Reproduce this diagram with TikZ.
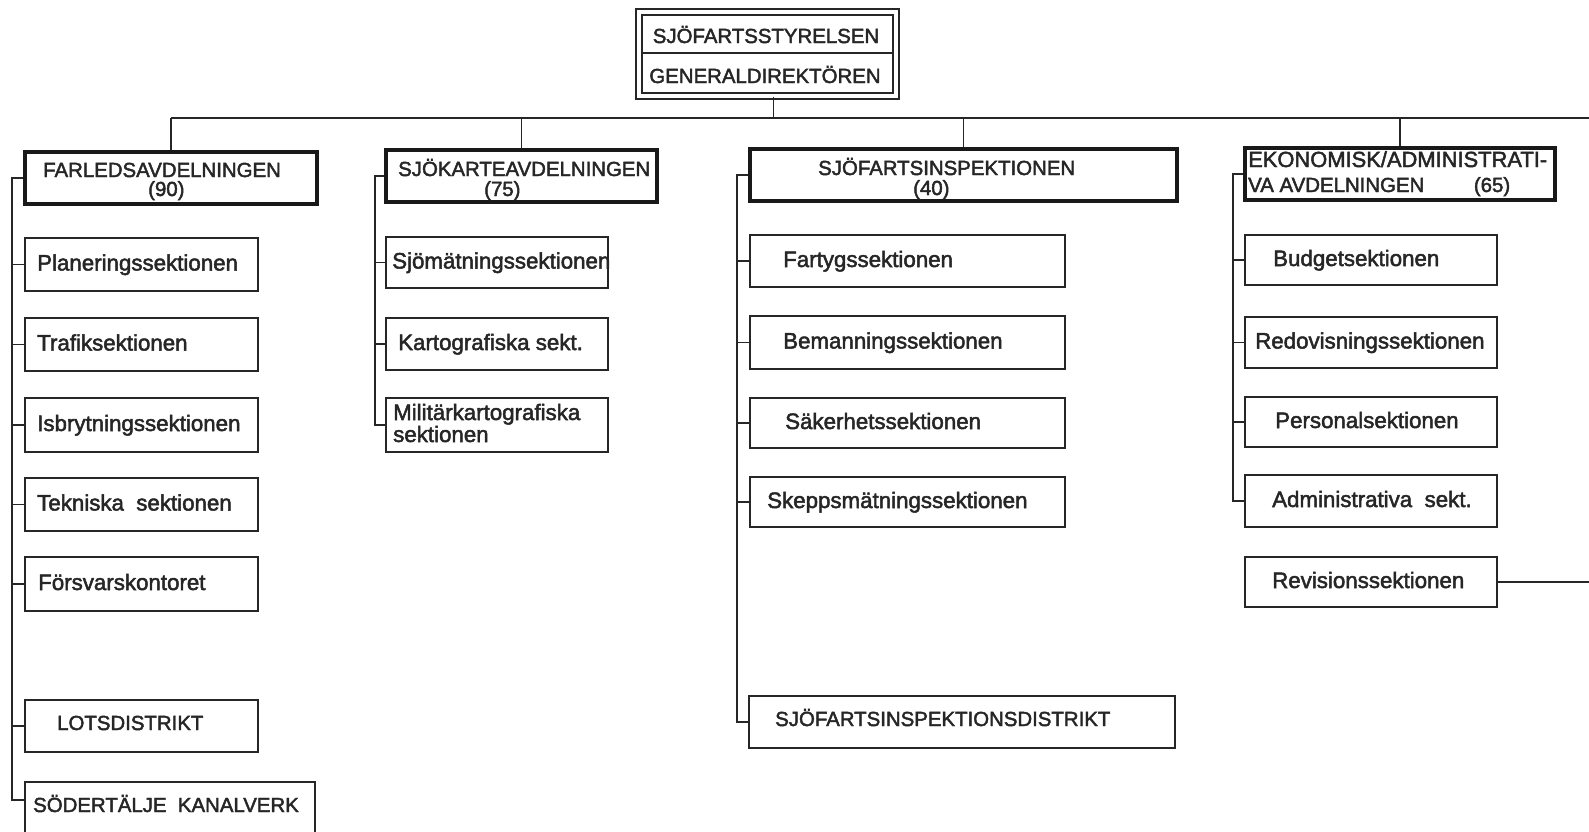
\documentclass[tikz,border=0pt]{standalone}
\usepackage{fontspec}
\setmainfont{Liberation Sans}[FakeBold=2.2]
\usetikzlibrary{calc}
\tikzset{
  deptbox/.style={draw=black!90, line width=3.5pt, inner sep=0pt},
  secbox/.style={draw=black!85, line width=2pt, inner sep=0pt},
  topbox/.style={draw=black!85, double, double distance=3.4pt, line width=1.9pt, inner sep=0pt},
  conn/.style={draw=black!85, line width=1.5pt},
  sectext/.style={anchor=base west, inner sep=0pt, text=black!85, font=\fontsize{22.3}{22}\selectfont},
  capstext/.style={anchor=base west, inner sep=0pt, text=black!85, font=\fontsize{20.4}{20}\selectfont},
}
% name, x1, y1, x2, y2, text x, text
\newcommand\secbx[7]{%
  \node[secbox, minimum width={#4-#2}, minimum height={#5-#3}] (#1) at ({(#2+#4)/2},{(#3+#5)/2}) {};
  \node[sectext] (#1t) at (#6,{(#3+#5)/2+6}) {#7};}
\newcommand\capbx[7]{%
  \node[secbox, minimum width={#4-#2}, minimum height={#5-#3}] (#1) at ({(#2+#4)/2},{(#3+#5)/2}) {};
  \node[capstext] (#1t) at (#6,{(#3+#5)/2+4}) {#7};}
\begin{document}
\begin{tikzpicture}[x=1pt,y=-1pt]
\useasboundingbox (0,0) rectangle (1589,831);

% top box
\node[topbox, minimum width=257, minimum height=84] (top) at (767.5,54) {};
\draw[conn, line width=1.8pt] ($(top.west)+(3,-1)$) -- ($(top.east)+(-3,-1)$);
\node[capstext, anchor=base] (top1) at (766,43) {SJÖFARTSSTYRELSEN};
\node[capstext, anchor=base] (top2) at (765,83) {GENERALDIREKTÖREN};

% departments
\node[deptbox, minimum width=292, minimum height=52] (dA) at (171,178) {};
\node[deptbox, minimum width=271, minimum height=52] (dB) at (521.5,176) {};
\node[deptbox, minimum width=427, minimum height=52] (dC) at (963.5,175) {};
\node[deptbox, minimum width=310, minimum height=52] (dD) at (1400,174) {};

\node[capstext] (dA1) at (43,177) {FARLEDSAVDELNINGEN};
\node[capstext] (dA2) at (148,196) {(90)};
\node[capstext] (dB1) at (398,176) {SJÖKARTEAVDELNINGEN};
\node[capstext] (dB2) at (484,196) {(75)};
\node[capstext] (dC1) at (818,175) {SJÖFARTSINSPEKTIONEN};
\node[capstext] (dC2) at (913,195) {(40)};
\node[capstext, font=\fontsize{21.9}{20}\selectfont] (dD1) at (1248,167) {EKONOMISK/ADMINISTRATI-};
\node[capstext] (dD2) at (1248,192) {\makebox[262pt][l]{VA AVDELNINGEN\hfill(65)}};

% bus
\coordinate (busR) at (1589,118);
\draw[conn] ([xshift=6pt]top.south) -- ([xshift=6pt]top.south |- busR);
\draw[conn] (dA.north |- busR) -- (busR);
\foreach \d in {dA,dB,dC,dD} \draw[conn] (\d.north) -- (\d.north |- busR);

% column A
\secbx{A1}{25}{238}{258}{291}{37}{Planeringssektionen}
\secbx{A2}{25}{318}{258}{371}{37}{Trafiksektionen}
\secbx{A3}{25}{398}{258}{452}{37}{Isbrytningssektionen}
\secbx{A4}{25}{478}{258}{531}{37}{Tekniska\ \ sektionen}
\secbx{A5}{25}{557}{258}{611}{38}{Försvarskontoret}
\capbx{A6}{25}{700}{258}{752}{57}{LOTSDISTRIKT}
\node[secbox, minimum width=290, minimum height=80] (A7) at (170,822) {};
\node[capstext] (A7t) at (33,812) {SÖDERTÄLJE\ \ KANALVERK};
\coordinate (spA) at (12,0);
\coordinate (A7b) at (25,800);
\draw[conn] (dA.west) -- (dA.west -| spA) -- (A7b -| spA) -- (A7b);
\foreach \n in {A1,A2,A3,A4,A5,A6} \draw[conn] (\n.west) -- (\n.west -| spA);

% column B
\secbx{B1}{386}{237}{608}{288}{392}{Sjömätningssektionen}
\secbx{B2}{386}{318}{608}{370}{398}{Kartografiska sekt.}
\node[secbox, minimum width=222, minimum height=54] (B3) at (497,425) {};
\node[sectext] (B3t) at (393,420) {Militärkartografiska};
\node[sectext] (B3u) at (393,442) {sektionen};
\coordinate (spB) at (375,0);
\draw[conn] (dB.west) -- (dB.west -| spB) -- (B3.west -| spB) -- (B3.west);
\foreach \n in {B1,B2} \draw[conn] (\n.west) -- (\n.west -| spB);

% column C
\secbx{C1}{750}{235}{1065}{287}{783}{Fartygssektionen}
\secbx{C2}{750}{316}{1065}{369}{783}{Bemanningssektionen}
\secbx{C3}{750}{398}{1065}{448}{785}{Säkerhetssektionen}
\secbx{C4}{750}{477}{1065}{527}{767}{Skeppsmätningssektionen}
\capbx{C5}{749}{696}{1175}{748}{775}{SJÖFARTSINSPEKTIONSDISTRIKT}
\coordinate (spC) at (737,0);
\draw[conn] (dC.west) -- (dC.west -| spC) -- (C5.west -| spC) -- (C5.west);
\foreach \n in {C1,C2,C3,C4} \draw[conn] (\n.west) -- (\n.west -| spC);

% column D
\secbx{D1}{1245}{235}{1497}{285}{1273}{Budgetsektionen}
\secbx{D2}{1245}{317}{1497}{368}{1255}{Redovisningssektionen}
\secbx{D3}{1245}{397}{1497}{447}{1275}{Personalsektionen}
\secbx{D4}{1245}{475}{1497}{527}{1272}{Administrativa\ \ sekt.}
\secbx{D5}{1245}{557}{1497}{607}{1272}{Revisionssektionen}
\coordinate (spD) at (1233,0);
\draw[conn] (dD.west) -- (dD.west -| spD) -- (D4.west -| spD) -- (D4.west);
\foreach \n in {D1,D2,D3} \draw[conn] (\n.west) -- (\n.west -| spD);
\coordinate (revR) at (1589,582);
\draw[conn] (D5.east) -- (D5.east -| revR);
\end{tikzpicture}
\end{document}
